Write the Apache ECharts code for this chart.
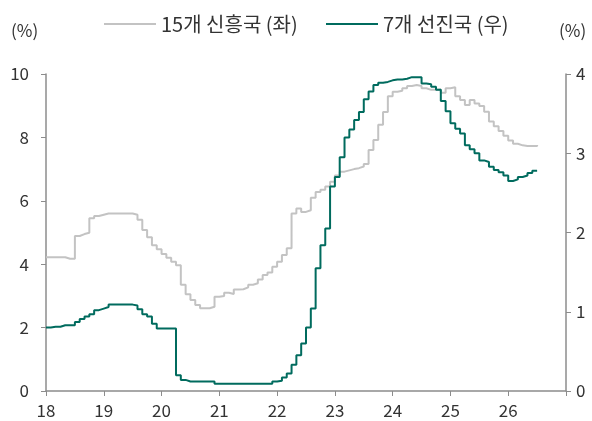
<!DOCTYPE html>
<html><head><meta charset="utf-8">
<script src="https://cdn.jsdelivr.net/npm/echarts@6/dist/echarts.min.js"></script>
<style>html,body{margin:0;padding:0;background:#fff}#c{width:592px;height:421px}</style>
</head><body><div id="c"></div>
<script>
// monthly data starting Jan 2018 (year index 18)
const startYear = 18;
const xTicks = ['18','19','20','21','22','23','24','25','26'];
const emName = '15개 신흥국 (좌)';
const dmName = '7개 선진국 (우)';
const emRates = [4.22,4.22,4.22,4.22,4.17,4.17,4.89,4.95,4.99,5.45,5.52,5.56,
 5.6,5.6,5.6,5.6,5.6,5.6,5.56,5.4,5.08,4.85,4.6,4.47,
 4.32,4.2,4.08,3.97,3.35,3.05,2.87,2.71,2.61,2.61,2.66,2.97,
 3.0,3.1,3.06,3.2,3.21,3.27,3.35,3.4,3.52,3.66,3.74,3.92,
 4.08,4.29,4.5,5.6,5.76,5.65,5.7,6.1,6.28,6.35,6.45,6.6,
 6.8,6.92,6.96,7.0,7.03,7.08,7.16,7.6,7.92,8.4,8.8,9.3,
 9.44,9.47,9.55,9.62,9.65,9.62,9.55,9.5,9.5,9.51,9.41,9.55,
 9.58,9.3,9.18,9.02,9.18,9.07,8.99,8.81,8.5,8.35,8.2,8.05,
 7.9,7.8,7.75,7.73,7.73,7.73,7.76];
const dmRates = [0.80,0.81,0.81,0.83,0.83,0.83,0.87,0.91,0.94,0.97,1.02,1.04,
 1.06,1.09,1.09,1.09,1.09,1.09,1.08,1.03,0.97,0.94,0.85,0.79,
 0.79,0.79,0.79,0.2,0.14,0.12,0.12,0.12,0.12,0.12,0.12,0.09,
 0.09,0.09,0.09,0.09,0.09,0.09,0.09,0.09,0.09,0.09,0.09,0.12,
 0.13,0.17,0.22,0.33,0.45,0.6,0.8,1.04,1.55,1.84,2.05,2.58,
 2.7,2.95,3.2,3.3,3.42,3.52,3.68,3.78,3.86,3.89,3.9,3.92,
 3.93,3.93,3.94,3.96,3.96,3.96,3.88,3.87,3.84,3.8,3.66,3.53,
 3.38,3.31,3.25,3.1,3.05,3.0,2.91,2.89,2.83,2.79,2.76,2.72,
 2.65,2.67,2.7,2.72,2.75,2.78,2.78];
const leftTicks = [0,2,4,6,8,10];
const rightTicks = [0,1,2,3,4];

const toXY = arr => arr.map((v,i)=>[startYear + i/12, v]);
const font = '"Noto Sans CJK KR","Noto Sans",sans-serif';
const axisCol = '#8c8c8c';
const legendText = {fontSize:20,color:'#333',fontFamily:font};
const chart = echarts.init(document.getElementById('c'));
chart.setOption({
  animation:false,
  textStyle:{fontFamily:font},
  grid:{left:46,right:26,top:74,bottom:30},
  legend:[
    {left:104, top:14, padding:0, itemWidth:52, itemHeight:2, icon:'rect', textStyle:legendText, data:[emName]},
    {left:326, top:14, padding:0, itemWidth:52, itemHeight:2, icon:'rect', textStyle:legendText, data:[dmName]}
  ],
  graphic:[
    {type:'text',left:11,top:22,style:{text:'(%)',font:'17px '+font,fill:'#333'}},
    {type:'text',left:559,top:22,style:{text:'(%)',font:'17px '+font,fill:'#333'}}
  ],
  xAxis:{type:'value',min:18,max:27,interval:1,
    axisLine:{lineStyle:{color:axisCol,width:1.5}},
    axisTick:{show:true,length:5,lineStyle:{color:axisCol}},
    splitLine:{show:false},
    axisLabel:{fontSize:17,color:'#333',margin:11,
      formatter:v=>{const s=String(Math.round(v));return xTicks.includes(s)?s:'';}}
  },
  yAxis:[
    {type:'value',min:leftTicks[0],max:leftTicks[leftTicks.length-1],interval:2,position:'left',
      axisLine:{show:true,lineStyle:{color:axisCol,width:1.5}},
      axisTick:{show:true,length:5,lineStyle:{color:axisCol}},
      splitLine:{show:false},
      axisLabel:{fontSize:17,color:'#333',margin:17}},
    {type:'value',min:rightTicks[0],max:rightTicks[rightTicks.length-1],interval:1,position:'right',
      axisLine:{show:true,lineStyle:{color:axisCol,width:1.5}},
      axisTick:{show:true,length:5,lineStyle:{color:axisCol}},
      splitLine:{show:false},
      axisLabel:{fontSize:17,color:'#333',margin:10}}
  ],
  series:[
    {name:emName,type:'line',step:'end',yAxisIndex:0,showSymbol:false,
      itemStyle:{color:'#c3c3c3'},lineStyle:{color:'#c3c3c3',width:2},data:toXY(emRates)},
    {name:dmName,type:'line',step:'end',yAxisIndex:1,showSymbol:false,
      itemStyle:{color:'#006b5e'},lineStyle:{color:'#006b5e',width:2},data:toXY(dmRates)}
  ]
});
</script></body></html>
